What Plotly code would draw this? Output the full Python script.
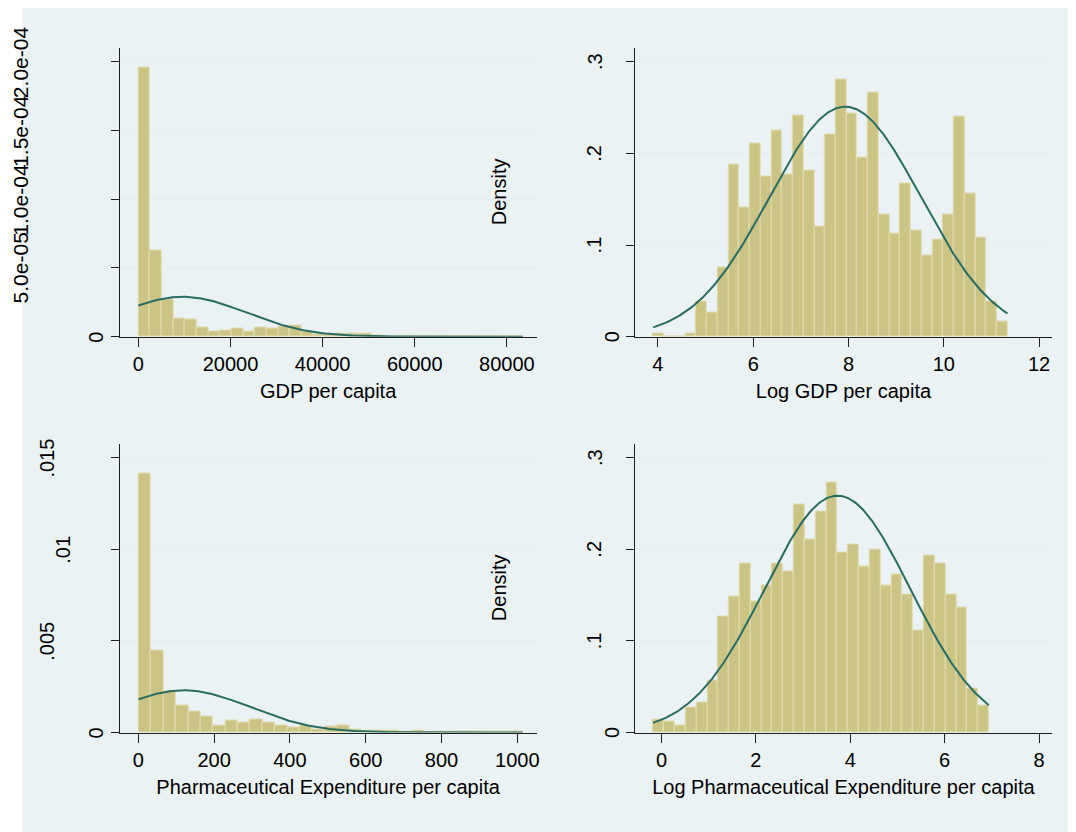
import numpy as np
import plotly.graph_objects as go

# ---------------- data ----------------
gdp_bin_start = 0.0
gdp_bin_width = 2530.0
gdp_density = [1.955e-4, 6.29e-5, 2.71e-5, 1.33e-5, 1.28e-5, 7.0e-6, 4.1e-6, 4.8e-6,
               6.0e-6, 4.1e-6, 6.5e-6, 6.0e-6, 7.7e-6, 8.5e-6, 3.6e-6, 1.9e-6, 1.9e-6,
               2.4e-6, 2.4e-6, 2.4e-6, 1.2e-6, 0.5e-6, 0.4e-6, 0.3e-6, 0.3e-6, 0.2e-6,
               0.2e-6, 0.0, 0.2e-6, 0.0, 0.2e-6, 0.0, 0.2e-6]
gdp_mean, gdp_sd = 9600.0, 13760.0

lgdp_bin_start = 3.902
lgdp_bin_width = 0.2253
lgdp_density = [0.0036, 0.0, 0.0, 0.0036, 0.0388, 0.0265, 0.0751, 0.1875, 0.1414, 0.2103,
                0.1748, 0.2248, 0.1769, 0.2411, 0.1813, 0.1207, 0.2205, 0.2810, 0.2437,
                0.1958, 0.2665, 0.1334, 0.1124, 0.1668, 0.1160, 0.0888, 0.1059, 0.1334,
                0.2400, 0.1559, 0.1077, 0.0388, 0.0163]
lgdp_mean, lgdp_sd = 7.93, 1.59

pharma_bin_start = 0.8
pharma_bin_width = 32.7
pharma_density = [0.01414, 0.00446, 0.00222, 0.00146, 0.00116, 0.00089, 0.00038, 0.00066,
                  0.00055, 0.00073, 0.00057, 0.00038, 0.00028, 0.00040, 0.00018, 0.00031,
                  0.00040, 0.00018, 0.00013, 0.00011, 0.00009, 0.00007, 0.00009, 0.00002,
                  0.00004, 0.00005, 0.00005, 0.00004, 0.00005, 0.00005, 0.00004]
pharma_mean, pharma_sd = 120.0, 173.0

lpharma_bin_start = -0.176
lpharma_bin_width = 0.2294
lpharma_density = [0.0146, 0.0116, 0.0080, 0.0269, 0.0328, 0.0572, 0.1263, 0.1482, 0.1846,
                   0.1427, 0.1609, 0.1846, 0.1755, 0.2490, 0.2111, 0.2417, 0.2727, 0.1966,
                   0.2053, 0.1817, 0.1999, 0.1602, 0.1726, 0.1511, 0.1118, 0.1937, 0.1846,
                   0.1511, 0.1365, 0.0481, 0.0299]
lpharma_mean, lpharma_sd = 3.73, 1.543

x_titles = ["GDP per capita", "Log GDP per capita",
            "Pharmaceutical Expenditure per capita",
            "Log Pharmaceutical Expenditure per capita"]
x_ticks = [[0, 20000, 40000, 60000, 80000], [4, 6, 8, 10, 12],
           [0, 200, 400, 600, 800, 1000], [0, 2, 4, 6, 8]]
x_ticktext = [["0", "20000", "40000", "60000", "80000"], ["4", "6", "8", "10", "12"],
              ["0", "200", "400", "600", "800", "1000"], ["0", "2", "4", "6", "8"]]
y_ticks = [[0, 5e-5, 1e-4, 1.5e-4, 2e-4], [0, 0.1, 0.2, 0.3],
           [0, 0.005, 0.01, 0.015], [0, 0.1, 0.2, 0.3]]
y_ticktext = [["0", "5.0e-05", "1.0e-04", "1.5e-04", "2.0e-04"], ["0", ".1", ".2", ".3"],
              ["0", ".005", ".01", ".015"], ["0", ".1", ".2", ".3"]]
y_title = "Density"

# ---------------- styling / layout ----------------
W, H = 1076, 832
OFF = 8  # the page body adds an 8px margin; positions below are page pixels
FONT = "Liberation Sans, Arial, Helvetica, sans-serif"
BAR = "rgb(203,196,133)"
BAR_EDGE = "rgb(226,221,176)"
CURVE = "rgb(40,108,98)"
BG = "rgb(234,242,243)"
GRID = "rgb(232,239,243)"
AXIS = "rgb(30,30,30)"


def fx(p):
    return (p - OFF) / W


def fy(p):
    return 1 - (p - OFF) / H


panels = [
    dict(bins=(gdp_bin_start, gdp_bin_width), dens=gdp_density, norm=(gdp_mean, gdp_sd),
         xpx=(120, 538), ypx=(47.5, 336.7), xr=[-4048, 86430], yr=[0, 2.103e-4],
         ylab_x=[96.2, 20.5, 20.5, 20.5, 20.5], ylab_size=[20, 21, 21, 21, 21]),
    dict(bins=(lgdp_bin_start, lgdp_bin_width), dens=lgdp_density, norm=(lgdp_mean, lgdp_sd),
         xpx=(636.5, 1055), ypx=(47.5, 336.7), xr=[3.5145, 12.272], yr=[0, 0.3155],
         ylab_x=[613.3, 596, 596, 596], ylab_size=[20, 20, 20, 20]),
    dict(bins=(pharma_bin_start, pharma_bin_width), dens=pharma_density,
         norm=(pharma_mean, pharma_sd),
         xpx=(120, 538), ypx=(443.5, 732.5), xr=[-49.2, 1050.8], yr=[0, 0.015776],
         ylab_x=[96.2, 47, 63.6, 47], ylab_size=[20, 20, 20, 20]),
    dict(bins=(lpharma_bin_start, lpharma_bin_width), dens=lpharma_density,
         norm=(lpharma_mean, lpharma_sd),
         xpx=(636.5, 1055), ypx=(443.5, 732.5), xr=[-0.566, 8.277], yr=[0, 0.3155],
         ylab_x=[613.3, 596, 596, 596], ylab_size=[20, 20, 20, 20]),
]

fig = go.Figure()
layout = dict(
    width=W, height=H, margin=dict(l=0, r=0, t=0, b=0),
    paper_bgcolor="white", plot_bgcolor="white", showlegend=False, bargap=0,
    font=dict(family=FONT, size=20, color="black"),
    shapes=[dict(type="rect", xref="paper", yref="paper", x0=fx(22.5), x1=1,
                 y0=0, y1=1, fillcolor=BG, line=dict(width=0), layer="below")],
    annotations=[],
)

for i, p in enumerate(panels):
    n = i + 1
    xa = "x" if n == 1 else f"x{n}"
    ya = "y" if n == 1 else f"y{n}"
    start, width = p["bins"]
    dens = p["dens"]
    centers = [start + (k + 0.5) * width for k in range(len(dens))]
    fig.add_trace(go.Bar(x=centers, y=dens, width=[width] * len(dens),
                         marker=dict(color=BAR, line=dict(color=BAR_EDGE, width=1)),
                         xaxis=xa, yaxis=ya, hoverinfo="x+y"))
    m, s = p["norm"]
    xs = np.linspace(start, start + width * len(dens), 400)
    ys = np.exp(-(xs - m) ** 2 / (2 * s * s)) / (s * np.sqrt(2 * np.pi))
    fig.add_trace(go.Scatter(x=xs, y=ys, mode="lines", line=dict(color=CURVE, width=2),
                             xaxis=xa, yaxis=ya, hoverinfo="skip"))

    xkey = "xaxis" if n == 1 else f"xaxis{n}"
    ykey = "yaxis" if n == 1 else f"yaxis{n}"
    layout[xkey] = dict(
        domain=[fx(p["xpx"][0]), fx(p["xpx"][1])], range=p["xr"], anchor=ya,
        tickmode="array", tickvals=x_ticks[i], ticktext=x_ticktext[i],
        ticks="outside", ticklen=9,
        tickwidth=1.3, tickcolor=AXIS, showline=True, linecolor=AXIS, linewidth=1.3,
        showgrid=False, zeroline=False, tickfont=dict(size=20, color="black"),
        title=dict(text=x_titles[i], font=dict(size=20, color="black"), standoff=10),
        fixedrange=True,
    )
    layout[ykey] = dict(
        domain=[fy(p["ypx"][1]), fy(p["ypx"][0])], range=p["yr"], anchor=xa,
        tickmode="array", tickvals=y_ticks[i], showticklabels=False, ticks="outside",
        ticklen=8, tickwidth=1.3, tickcolor=AXIS, showline=True, linecolor=AXIS,
        linewidth=1.3, showgrid=True, gridcolor=GRID, gridwidth=1.6, zeroline=False,
        fixedrange=True,
    )
    for v, t, xp, fs in zip(y_ticks[i], y_ticktext[i], p["ylab_x"], p["ylab_size"]):
        layout["annotations"].append(dict(
            xref="paper", yref=ya, x=fx(xp), y=v, text=t, showarrow=False,
            textangle=-90, xanchor="center", yanchor="middle",
            font=dict(size=fs, color="black")))

# "Density" titles (placed as in the reference, inside the left panels)
for ycen in (192.1, 588.0):
    layout["annotations"].append(dict(
        xref="paper", yref="paper", x=fx(500.5), y=fy(ycen), text=y_title,
        showarrow=False, textangle=-90, xanchor="center", yanchor="middle",
        font=dict(size=20, color="black")))

fig.update_layout(**layout)
fig.write_html("out.html")
